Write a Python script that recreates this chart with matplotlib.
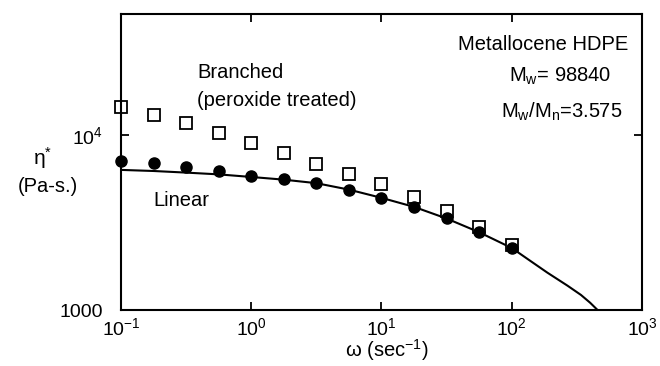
import matplotlib
matplotlib.use("Agg")
import matplotlib.pyplot as plt
from matplotlib.ticker import NullLocator, FixedLocator, FixedFormatter

plt.rcParams['font.family'] = ['Liberation Sans', 'DejaVu Sans']
plt.rcParams['mathtext.fontset'] = 'custom'
plt.rcParams['mathtext.rm'] = 'Liberation Sans'
plt.rcParams['mathtext.it'] = 'Liberation Sans:italic'

# frequency (rad/s)
omega = [0.1, 0.178, 0.316, 0.562, 1.0, 1.78, 3.16, 5.62, 10.0, 17.8, 31.6, 56.2, 100.0]
# complex viscosity (Pa-s)
eta_linear = [7130, 6950, 6590, 6230, 5850, 5580, 5300, 4850, 4380, 3890, 3340, 2780, 2250]
eta_branched = [14500, 13000, 11750, 10300, 9040, 7860, 6830, 5960, 5230, 4440, 3690, 2990, 2340]

# model fit for the linear resin
fit_omega = [0.1, 0.178, 0.316, 0.562, 1.0, 1.78, 3.16, 5.62, 10.0, 17.8, 31.6, 56.2,
             100.0, 140.0, 188.0, 268.0, 340.0, 400.0, 456.0]
fit_eta = [6310, 6220, 6090, 5950, 5750, 5550, 5300, 4870, 4370, 3880, 3330, 2780,
           2260, 1900, 1633, 1377, 1219, 1100, 1000]

fig = plt.figure(figsize=(6.6, 3.66), dpi=100)
ax = fig.add_axes([0.1833, 0.153, 0.7894, 0.8087])

ax.plot(fit_omega, fit_eta, color='black', lw=1.5)
ax.plot(omega, eta_branched, 's', ms=9, mfc='white', mec='black', mew=1.3, clip_on=False)
ax.plot(omega, eta_linear, 'o', ms=8, color='black', clip_on=False)

ax.set_xscale('log')
ax.set_yscale('log')
ax.set_xlim(0.1, 1000)
ax.set_ylim(1000, 49000)

ax.xaxis.set_major_locator(FixedLocator([0.1, 1, 10, 100, 1000]))
ax.xaxis.set_major_formatter(FixedFormatter(['$10^{-1}$', '$10^{0}$', '$10^{1}$', '$10^{2}$', '$10^{3}$']))
ax.yaxis.set_major_locator(FixedLocator([1000, 10000]))
ax.yaxis.set_major_formatter(FixedFormatter(['1000', '$10^{4}$']))
ax.xaxis.set_minor_locator(NullLocator())
ax.yaxis.set_minor_locator(NullLocator())

ax.tick_params(direction='in', top=True, right=True, length=6, width=1.3, labelsize=14)
ax.tick_params(axis='y', pad=13)
ax.tick_params(axis='x', pad=5)
for s in ax.spines.values():
    s.set_linewidth(1.5)

fig.text(197 / 660, 1 - 73 / 366, 'Branched', fontsize=14.5, va='center', ha='left')
fig.text(197 / 660, 1 - 100 / 366, '(peroxide treated)', fontsize=14.5, va='center', ha='left')
fig.text(153 / 660, 1 - 200 / 366, 'Linear', fontsize=14.5, va='center', ha='left')
fig.text(628 / 660, 1 - 45 / 366, 'Metallocene HDPE', fontsize=14.5, va='center', ha='right')
fig.text(560 / 660, 1 - 76 / 366, r'M$_\mathrm{w}$= 98840', fontsize=14.5, va='center', ha='center')
fig.text(562 / 660, 1 - 112 / 366, r'M$_\mathrm{w}$/M$_\mathrm{n}$=3.575', fontsize=14.5, va='center', ha='center')

fig.text(43 / 660, 1 - 158 / 366, r'η$^{*}$', fontsize=15, va='center', ha='center')
fig.text(48 / 660, 1 - 187 / 366, '(Pa-s.)', fontsize=14.5, va='center', ha='center')
fig.text(387 / 660, 1 - 350 / 366, r'ω (sec$^{-1}$)', fontsize=14.5, va='center', ha='center')

fig.savefig('out.png', dpi=100)
